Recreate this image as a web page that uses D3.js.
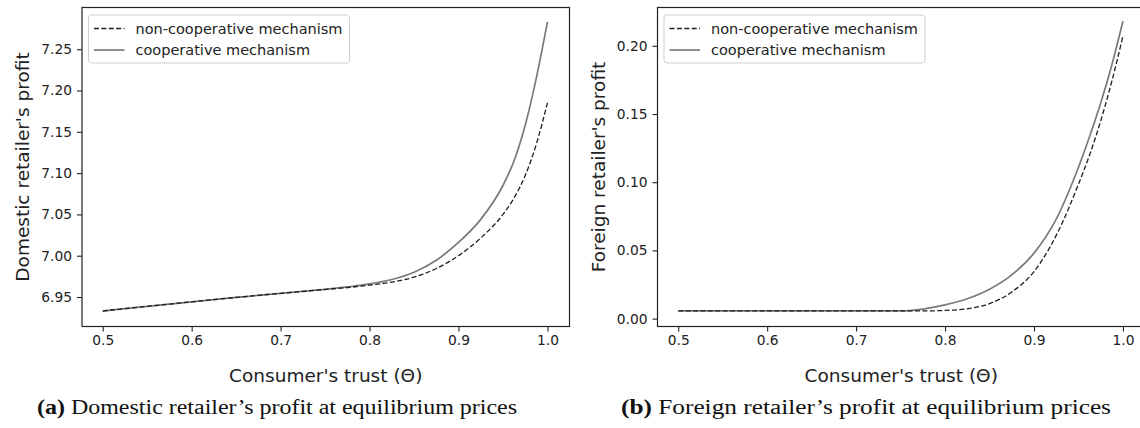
<!DOCTYPE html>
<html>
<head>
<meta charset="utf-8">
<script src="https://cdn.jsdelivr.net/npm/d3@7"></script>
<style>
  body { margin: 0; background: #fff; }
  svg { display: block; }
</style>
</head>
<body>
<div id="chart"></div>
<script>
// consumer's trust values (x)
const theta = [0.5, 0.525, 0.55, 0.575, 0.6, 0.625, 0.65, 0.675, 0.7, 0.725, 0.75, 0.775,
    0.8, 0.825, 0.85, 0.875, 0.9, 0.925, 0.95, 0.9625, 0.975, 0.9875, 1.0];

// domestic retailer's profit
const domesticNonCoop = [6.9330, 6.9359, 6.9387, 6.9415, 6.9442, 6.9469, 6.9495, 6.9520, 6.9545, 6.9569, 6.9592, 6.9614,
    6.9645, 6.9680, 6.9740, 6.9845, 7.0000, 7.0215, 7.0500, 7.0700, 7.0970, 7.1350, 7.1850];
const domesticCoop = [6.9330, 6.9359, 6.9387, 6.9415, 6.9442, 6.9469, 6.9495, 6.9520, 6.9545, 6.9569, 6.9592, 6.9622,
    6.9658, 6.9712, 6.9800, 6.9945, 7.0160, 7.0440, 7.0850, 7.1150, 7.1580, 7.2150, 7.2830];

// foreign retailer's profit
const foreignNonCoop = [0.0056, 0.0056, 0.0056, 0.0056, 0.0056, 0.0056, 0.0056, 0.0056, 0.0056, 0.0056, 0.0056, 0.0056,
    0.0060, 0.0072, 0.0110, 0.0195, 0.0345, 0.0610, 0.0985, 0.1200, 0.1450, 0.1740, 0.2071];
const foreignCoop = [0.0056, 0.0056, 0.0056, 0.0056, 0.0056, 0.0056, 0.0056, 0.0056, 0.0056, 0.0056, 0.0056, 0.0070,
    0.0100, 0.0145, 0.0215, 0.0320, 0.0480, 0.0730, 0.1110, 0.1335, 0.1580, 0.1860, 0.2180];

const thetaTicks = [0.5, 0.6, 0.7, 0.8, 0.9, 1.0];
const domesticTicks = [6.95, 7.00, 7.05, 7.10, 7.15, 7.20, 7.25];
const foreignTicks = [0.00, 0.05, 0.10, 0.15, 0.20];

const legendLabels = ['non-cooperative mechanism', 'cooperative mechanism'];
const xLabel = "Consumer's trust (\u0398)";

let svg = d3.select('#chart')
    .append('svg')
    .attr('width', 1140)
    .attr('height', 428);

const tickFont = 'DejaVu Sans, sans-serif';

function drawPanel(opts) {
    const left = opts.left, top = 7.5, width = 487.5, bottom = 326.5;

    const x = d3.scaleLinear().domain([0.4767, 1.0248]).range([left, left + width]);
    const y = d3.scaleLinear().domain(opts.yDomain).range([bottom, top]);

    const g = svg.append('g');

    // lines
    const line = d3.line()
        .x((d, i) => x(theta[i]))
        .y(d => y(d))
        .curve(d3.curveMonotoneX);

    g.append('path')
        .attr('d', line(opts.coop))
        .attr('fill', 'none')
        .attr('stroke', '#7a7a7a')
        .attr('stroke-width', 1.7);

    g.append('path')
        .attr('d', line(opts.nonCoop))
        .attr('fill', 'none')
        .attr('stroke', '#1e1e1e')
        .attr('stroke-width', 1.3)
        .attr('stroke-dasharray', '5,2.4');

    // axes
    const xAxis = d3.axisBottom(x).tickValues(thetaTicks).tickFormat(d3.format('.1f'))
        .tickSizeOuter(0).tickSize(5).tickPadding(4);
    const yAxis = d3.axisLeft(y).tickValues(opts.yTicks).tickFormat(d3.format('.2f'))
        .tickSizeOuter(0).tickSize(5).tickPadding(5);

    const gx = g.append('g').attr('transform', `translate(0,${bottom})`).call(xAxis);
    const gy = g.append('g').attr('transform', `translate(${left},0)`).call(yAxis);

    [gx, gy].forEach(a => {
        a.select('.domain').remove();
        a.selectAll('line').attr('stroke', '#222').attr('stroke-width', 1.1);
        a.selectAll('text').attr('font-family', tickFont).attr('font-size', 13.8).attr('fill', '#222');
    });

    // frame
    g.append('rect')
        .attr('x', left)
        .attr('y', top)
        .attr('width', width)
        .attr('height', bottom - top)
        .attr('fill', 'none')
        .attr('stroke', '#222')
        .attr('stroke-width', 1.2);

    // legend
    const lg = g.append('g').attr('transform', `translate(${left + 6.5},15)`);
    lg.append('rect')
        .attr('width', 261)
        .attr('height', 48)
        .attr('rx', 3)
        .attr('fill', 'rgba(255,255,255,0.8)')
        .attr('stroke', '#cfcfcf')
        .attr('stroke-width', 1);

    legendLabels.forEach((lab, i) => {
        const ly = 13.5 + i * 21.5;
        lg.append('line')
            .attr('x1', 5.5).attr('x2', 36)
            .attr('y1', ly).attr('y2', ly)
            .attr('stroke', i === 0 ? '#1e1e1e' : '#7a7a7a')
            .attr('stroke-width', i === 0 ? 1.3 : 1.7)
            .attr('stroke-dasharray', i === 0 ? '5,2.4' : null);
        lg.append('text')
            .attr('x', 47)
            .attr('y', ly + 5)
            .attr('font-family', tickFont)
            .attr('font-size', 14.5)
            .attr('fill', '#222')
            .text(lab);
    });

    // axis labels
    g.append('text')
        .attr('x', left + width / 2)
        .attr('y', 382)
        .attr('text-anchor', 'middle')
        .attr('font-family', tickFont)
        .attr('font-size', 18.5)
        .attr('fill', '#222')
        .text(xLabel);

    g.append('text')
        .attr('transform', `translate(${left - 53},${(top + bottom) / 2}) rotate(-90)`)
        .attr('text-anchor', 'middle')
        .attr('font-family', tickFont)
        .attr('font-size', 18.5)
        .attr('fill', '#222')
        .text(opts.yLabel);

    // caption (serif, stretched a bit to the width of the LaTeX one)
    const cap = svg.append('text')
        .attr('x', opts.capX)
        .attr('y', 414)
        .attr('text-anchor', 'middle')
        .attr('font-family', 'Liberation Serif, serif')
        .attr('font-size', 20)
        .attr('fill', '#111')
        .attr('textLength', opts.capWidth)
        .attr('lengthAdjust', 'spacingAndGlyphs');
    cap.append('tspan').attr('font-weight', 'bold').text(opts.capTag);
    cap.append('tspan').text(' ' + opts.caption);
}

drawPanel({
    left: 82,
    yDomain: [6.9143, 7.3005],
    yTicks: domesticTicks,
    coop: domesticCoop,
    nonCoop: domesticNonCoop,
    yLabel: "Domestic retailer's profit",
    capX: 277,
    capWidth: 480,
    capTag: '(a)',
    caption: "Domestic retailer\u2019s profit at equilibrium prices"
});

drawPanel({
    left: 657.5,
    yDomain: [-0.0058, 0.2281],
    yTicks: foreignTicks,
    coop: foreignCoop,
    nonCoop: foreignNonCoop,
    yLabel: "Foreign retailer's profit",
    capX: 866,
    capWidth: 490,
    capTag: '(b)',
    caption: "Foreign retailer\u2019s profit at equilibrium prices"
});
</script>
</body>
</html>
